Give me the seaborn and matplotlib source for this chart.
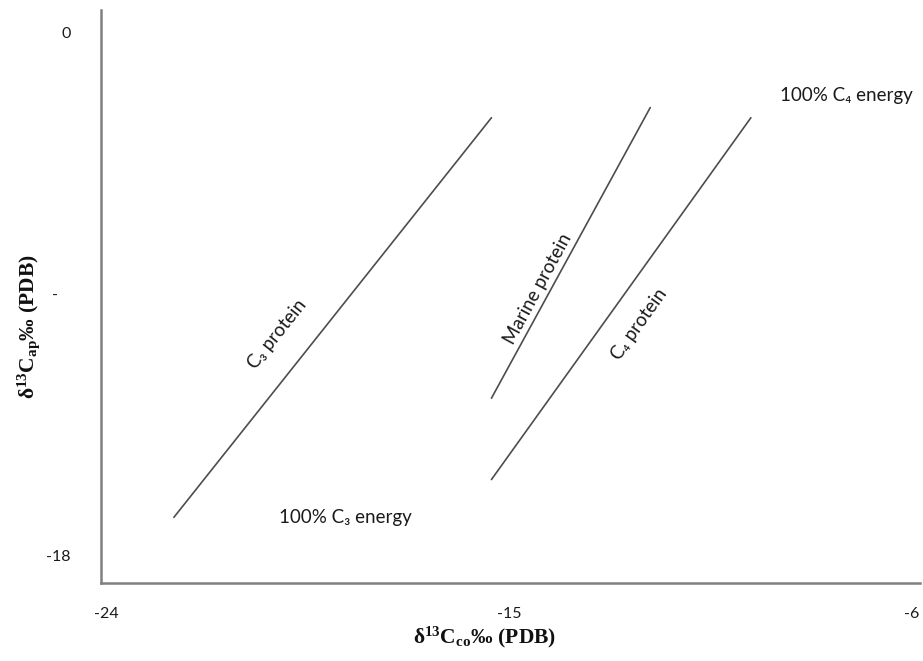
import seaborn as sns
import matplotlib.pyplot as plt
import pandas as pd

# line end points (delta13C collagen, delta13C apatite)
line_names = ["C3 protein", "C3 protein", "Marine protein", "Marine protein", "C4 protein", "C4 protein"]
x_co = [-22.5, -15.4, -15.4, -11.85, -15.4, -9.6]
y_ap = [-16.7, -2.95, -12.6, -2.6, -15.4, -2.95]

xticks = [-24, -15, -6]
xtick_labels = ["-24", "-15", "-6"]
yticks = [0, -9, -18]
ytick_labels = ["0", "-   ", "-18"]

df = pd.DataFrame({"line": line_names, "x": x_co, "y": y_ap})

sns.set_style("white")
plt.rcParams["font.family"] = ["Lato", "DejaVu Sans"]
plt.rcParams["mathtext.fontset"] = "custom"
plt.rcParams["mathtext.rm"] = "Liberation Serif:bold"
plt.rcParams["mathtext.it"] = "Liberation Serif:bold"
plt.rcParams["mathtext.bf"] = "Liberation Serif:bold"

fig = plt.figure(figsize=(9.23, 6.61), dpi=100)
ax = fig.add_axes([0.1094, 0.118, 0.8873, 0.867])

sns.lineplot(data=df, x="x", y="y", units="line", estimator=None,
             color="#4d4d4d", linewidth=1.2, ax=ax)

ax.set_xlim(-24.13, -5.82)
ax.set_ylim(-18.96, 0.76)
ax.set_xticks(xticks)
ax.set_xticklabels(xtick_labels)
ax.set_yticks(yticks)
ax.set_yticklabels(ytick_labels)
ax.tick_params(axis="both", length=0, labelsize=11.5, colors="#1a1a1a")
ax.tick_params(axis="x", pad=17)
ax.tick_params(axis="y", pad=22)

for side in ["top", "right"]:
    ax.spines[side].set_visible(False)
for side in ["left", "bottom"]:
    ax.spines[side].set_color("#808080")
    ax.spines[side].set_linewidth(1.8)

ax.set_xlabel(r"$\mathrm{δ^{13}C_{co}‰\ (PDB)}$", fontsize=15.5, color="#111111")
ax.set_ylabel(r"$\mathrm{δ^{13}C_{ap}‰\ (PDB)}$", fontsize=15.5, color="#111111")
ax.xaxis.set_label_coords(0.468, -0.073)
ax.yaxis.set_label_coords(-0.072, 0.447)

txt = dict(fontsize=13.5, color="#1a1a1a", rotation_mode="anchor")
ax.text(-20.2, -10.4, "C\u2083 protein", ha="center", va="center", rotation=51.5, **txt)
ax.text(-14.37, -8.84, "Marine protein", ha="center", va="center", rotation=61.5, **txt)
ax.text(-12.1, -10.05, "C\u2084 protein", ha="center", va="center", rotation=54.5, **txt)
ax.text(-20.15, -16.69, "100% C\u2083 energy", ha="left", va="center", **txt)
ax.text(-8.96, -2.17, "100% C\u2084 energy", ha="left", va="center", **txt)

fig.savefig("out.png", dpi=100)
